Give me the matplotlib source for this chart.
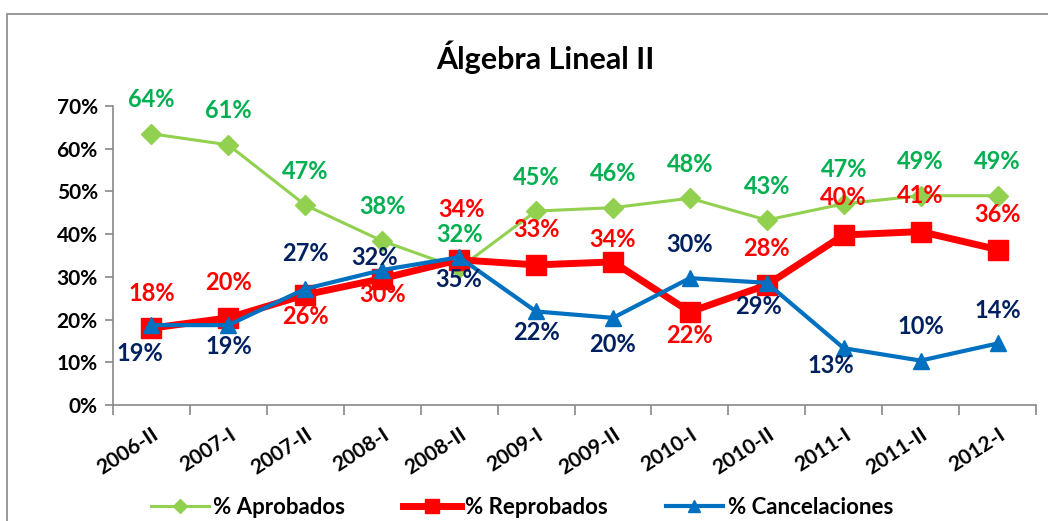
import matplotlib.pyplot as plt
from matplotlib.patches import Rectangle
from matplotlib.ticker import FixedLocator, PercentFormatter

plt.rcParams['font.family'] = ['Lato', 'DejaVu Sans']
plt.rcParams['font.weight'] = 'bold'

# Semestres y porcentajes por semestre
semestres = ['2006-II', '2007-I', '2007-II', '2008-I', '2008-II', '2009-I',
             '2009-II', '2010-I', '2010-II', '2011-I', '2011-II', '2012-I']
aprobados = [63.5, 60.9, 46.8, 38.4, 32.0, 45.4, 46.2, 48.4, 43.3, 47.1, 49.0, 49.0]
reprobados = [18.0, 20.4, 25.8, 29.6, 34.0, 32.8, 33.5, 21.8, 28.1, 39.8, 40.6, 36.4]
cancelaciones = [18.7, 18.7, 27.2, 31.6, 34.6, 21.9, 20.4, 29.7, 28.6, 13.3, 10.4, 14.4]

# desplazamiento (dx, dy) en pixeles de cada etiqueta respecto a su punto
off_apr = [(0, 34)] * 12
off_rep = [(0, 35), (0, 35), (0, -22), (0, -16), (2, 50), (0, 35),
           (0, 22), (0, -24), (0, 36), (0, 37), (0, 36), (0, 35)]
off_can = [(-12, -28), (0, -21), (0, 35), (-8, 13), (0, -22), (0, -21),
           (0, -27), (0, 34), (-8, -24), (-13, -17), (0, 34), (0, 33)]

fig = plt.figure(figsize=(10.48, 5.21), dpi=100)
fig.patches.append(Rectangle((7 / 1048, -0.1), 1.2, (521 - 13.5) / 521 + 0.1,
                             transform=fig.transFigure, fill=False,
                             edgecolor='#888888', linewidth=1.2))
ax = fig.add_axes([113 / 1048, 1 - 405 / 521, (1036 - 113) / 1048, (405 - 106) / 521])

x = list(range(len(semestres)))
series = [
    (aprobados, '% Aprobados', '#92D050', '#00B050', 'D', 2.2, 10, off_apr),
    (reprobados, '% Reprobados', '#FF0000', '#FF0000', 's', 5, 14, off_rep),
    (cancelaciones, '% Cancelaciones', '#0070C0', '#002060', '^', 3, 12, off_can),
]
for vals, name, col, lcol, mk, lw, ms, offs in series:
    ax.plot(x, vals, color=col, marker=mk, linewidth=lw, markersize=ms,
            label=name, solid_joinstyle='round')
    for xi, v, (dx, dy) in zip(x, vals, offs):
        ax.annotate(f'{v:.0f}%', (xi, v), xytext=(dx * 0.72, dy * 0.72),
                    textcoords='offset points', ha='center', va='center',
                    color=lcol, fontsize=17, fontweight='bold')

ax.set_xlim(-0.5, len(semestres) - 0.5)
ax.set_ylim(0, 70)
ax.yaxis.set_major_locator(FixedLocator(range(0, 71, 10)))
ax.yaxis.set_major_formatter(PercentFormatter(decimals=0))
ax.set_xticks(x)
ax.set_xticklabels(semestres, rotation=33, ha='right', rotation_mode='anchor')
ax.set_xticks([i - 0.5 for i in range(len(semestres) + 1)], minor=True)
ax.tick_params(axis='x', which='major', length=0, pad=14, labelsize=15)
ax.tick_params(axis='x', which='minor', length=7, width=1.2, color='#888888')
ax.tick_params(axis='y', length=6, width=1.2, color='#888888', labelsize=15, pad=5)

for s in ['top', 'right']:
    ax.spines[s].set_visible(False)
for s in ['left', 'bottom']:
    ax.spines[s].set_color('#888888')
    ax.spines[s].set_linewidth(1.2)

fig.text(545 / 1048, 1 - 57 / 521, 'Álgebra Lineal II', fontsize=22,
         fontweight='bold', ha='center', va='center')

fig.legend(loc='center', bbox_to_anchor=(522 / 1048, 1 - 507 / 521), ncol=3,
           frameon=False, fontsize=16, handlelength=2.6, columnspacing=2.6,
           handletextpad=0.2, markerscale=0.75)

fig.savefig('out.png', dpi=100, facecolor='white')
